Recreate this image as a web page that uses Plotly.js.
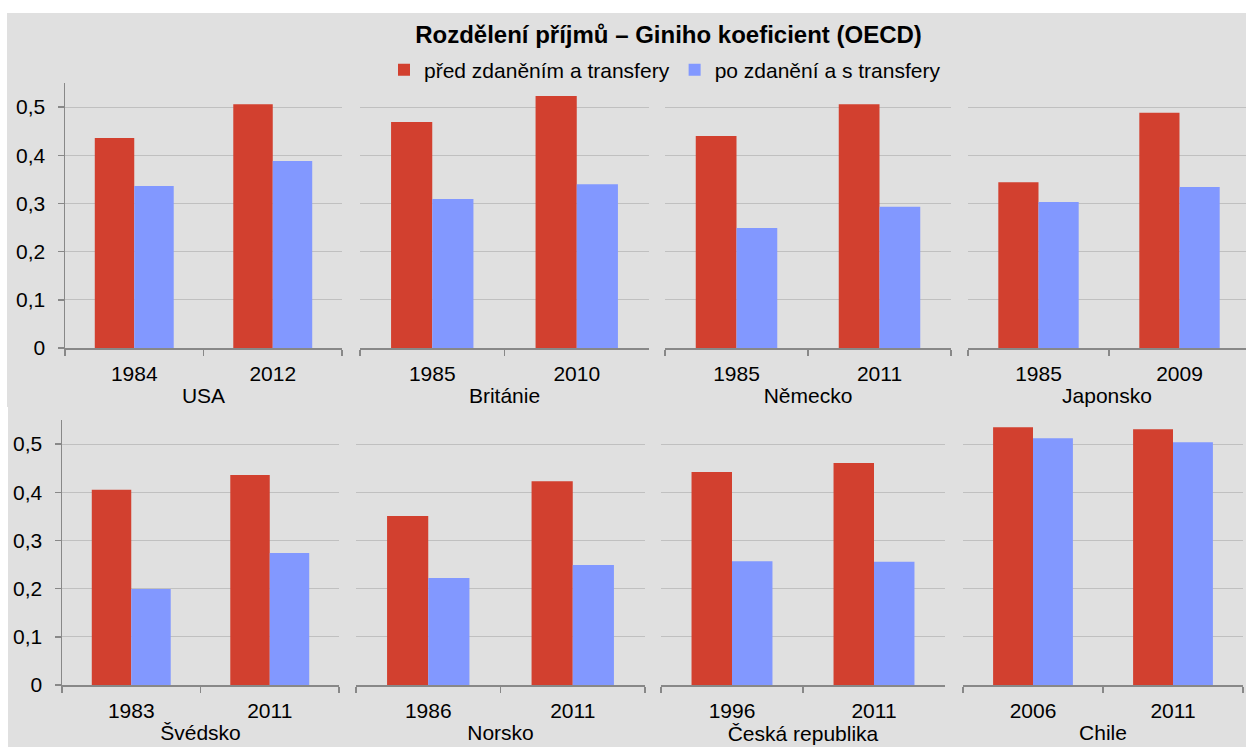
<!DOCTYPE html>
<html>
<head>
<meta charset="utf-8">
<script src="https://cdn.plot.ly/plotly-3.0.1.min.js"></script>
<style>html,body{margin:0;padding:0;background:#fff;}#chart{width:1246px;height:747px;}</style>
</head>
<body>
<div id="chart"></div>
<script>
const chartTitle = "Rozdělení příjmů – Giniho koeficient (OECD)";
const seriesNames = ["před zdaněním a transfery", "po zdanění a s transfery"];
const countries = ["USA", "Británie", "Německo", "Japonsko", "Švédsko", "Norsko", "Česká republika", "Chile"];
const yearsFirst = ["1984", "1985", "1985", "1985", "1983", "1986", "1996", "2006"];
const yearsLast  = ["2012", "2010", "2011", "2009", "2011", "2011", "2011", "2011"];
const beforeFirst = [0.436, 0.469, 0.440, 0.344, 0.405, 0.351, 0.442, 0.535];
const beforeLast  = [0.506, 0.523, 0.506, 0.488, 0.436, 0.423, 0.461, 0.531];
const afterFirst  = [0.336, 0.309, 0.249, 0.303, 0.199, 0.222, 0.257, 0.512];
const afterLast   = [0.388, 0.340, 0.293, 0.334, 0.274, 0.249, 0.256, 0.504];
const yTicks = [0, 0.1, 0.2, 0.3, 0.4, 0.5];

const W = 1246, H = 747;
const colors = ["#D2402F", "#8298FF"];
const axisColor = "#888888";
const gridColor = "#C0C0C0";
const fontFamily = "Liberation Sans, Arial, sans-serif";
const labelSize = 21;

// panel pixel geometry: [left, right(axis end), top(y=0.55), bottom(y=0)]
const panelsPx = [
  [65, 342, 83, 348], [360, 649, 83, 348], [665, 951, 83, 348], [968, 1250, 83, 348],
  [62, 339, 420, 685], [356, 645, 420, 685], [661, 945, 420, 685], [963, 1243, 420, 685]
];

const traces = [];
const layout = {
  width: W, height: H,
  margin: {l: 0, r: 0, t: 0, b: 0},
  paper_bgcolor: "#FFFFFF",
  plot_bgcolor: "rgba(0,0,0,0)",
  separators: ", ",
  font: {family: fontFamily, size: labelSize, color: "#000"},
  barmode: "group",
  bargap: 0.43,
  bargroupgap: 0,
  showlegend: true,
  title: {
    text: "<b>" + chartTitle + "</b>",
    font: {family: fontFamily, size: 24, color: "#000"},
    x: 668.5 / W, xanchor: "center", xref: "container",
    y: 1 - 35 / H, yanchor: "middle", yref: "container"
  },
  legend: {
    orientation: "h",
    x: 665 / W, xanchor: "center",
    y: 1 - 70 / H, yanchor: "middle",
    bgcolor: "rgba(0,0,0,0)",
    font: {family: fontFamily, size: labelSize, color: "#000"},
    itemwidth: 30,
    traceorder: "normal"
  },
  shapes: [
    {type: "rect", xref: "paper", yref: "paper", x0: 7 / W, x1: 1, y0: 1 - 407 / H, y1: 1 - 13 / H,
     fillcolor: "#E0E0E0", line: {width: 0}, layer: "below"},
    {type: "rect", xref: "paper", yref: "paper", x0: 8 / W, x1: 1, y0: 0, y1: 1 - 407 / H,
     fillcolor: "#E0E0E0", line: {width: 0}, layer: "below"}
  ]
};

countries.forEach((c, i) => {
  const xa = i === 0 ? "x" : "x" + (i + 1);
  const ya = i === 0 ? "y" : "y" + (i + 1);
  const cats = [yearsFirst[i], yearsLast[i]];
  traces.push({
    type: "bar", x: cats, y: [beforeFirst[i], beforeLast[i]], name: seriesNames[0],
    xaxis: xa, yaxis: ya, marker: {color: colors[0], line: {width: 0}},
    legendgroup: "before", showlegend: i === 0, hoverinfo: "x+y+name"
  });
  traces.push({
    type: "bar", x: cats, y: [afterFirst[i], afterLast[i]], name: seriesNames[1],
    xaxis: xa, yaxis: ya, marker: {color: colors[1], line: {width: 0}},
    legendgroup: "after", showlegend: i === 0, hoverinfo: "x+y+name"
  });

  const [l, r, t, b] = panelsPx[i];
  const right = Math.min(r, W);
  const xMax = -0.5 + 2 * (right - l) / (r - l);
  const firstCol = (i % 4) === 0;
  const xKey = i === 0 ? "xaxis" : "xaxis" + (i + 1);
  const yKey = i === 0 ? "yaxis" : "yaxis" + (i + 1);
  layout[xKey] = {
    domain: [l / W, right / W],
    anchor: ya,
    type: "category",
    range: [-0.5, xMax],
    tickson: "boundaries",
    ticks: "outside", ticklen: 6, tickwidth: 1.5, tickcolor: axisColor,
    showline: true, linecolor: axisColor, linewidth: 1.5,
    showgrid: false, zeroline: false,
    tickfont: {family: fontFamily, size: labelSize, color: "#000"},
    ticklabelstandoff: 6,
    title: {text: c, font: {family: fontFamily, size: labelSize, color: "#000"}, standoff: 4},
    fixedrange: true
  };
  layout[yKey] = {
    domain: [1 - b / H, 1 - t / H],
    anchor: xa,
    range: [0, 0.55],
    tickmode: "array", tickvals: yTicks,
    showgrid: true, gridcolor: gridColor, gridwidth: 1,
    zeroline: false,
    showline: firstCol, linecolor: axisColor, linewidth: 1.5,
    ticks: firstCol ? "outside" : "", ticklen: 6, tickwidth: 1.5, tickcolor: axisColor,
    showticklabels: firstCol,
    tickfont: {family: fontFamily, size: labelSize, color: "#000"},
    ticklabelstandoff: 8,
    fixedrange: true
  };
});

Plotly.newPlot("chart", traces, layout, {displayModeBar: false, staticPlot: true});
</script>
</body>
</html>
